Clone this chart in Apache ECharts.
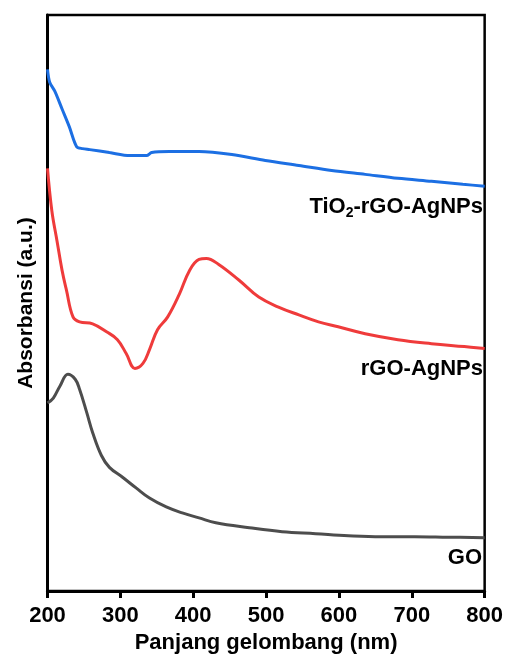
<!DOCTYPE html>
<html><head><meta charset="utf-8">
<script src="https://cdn.jsdelivr.net/npm/echarts@6/dist/echarts.min.js"></script>
<style>html,body{margin:0;padding:0;background:#fff}#c{width:506px;height:659px}</style>
</head><body><div id="c"></div>
<script>
// Wavelength (nm) / absorbance (a.u., arbitrary offset units)
const goX = [200,208,217,228,238,244,254,262,274,285,303,322,340,363,385,408,431,477,522,568,613,658,704,750,800];
const goY = [1.90,1.95,2.07,2.19,2.14,2.04,1.80,1.60,1.37,1.25,1.15,1.04,0.94,0.85,0.79,0.74,0.69,0.64,0.60,0.58,0.56,0.55,0.55,0.545,0.54];

const rgoX = [200,206,213,220,226,235,244,262,281,296,308,320,331,340,351,365,381,395,408,418,435,463,490,517,545,572,599,636,681,727,772,800];
const rgoY = [4.27,3.84,3.54,3.24,3.04,2.77,2.72,2.70,2.62,2.54,2.40,2.25,2.30,2.44,2.64,2.77,3.00,3.24,3.35,3.36,3.30,3.14,2.97,2.87,2.79,2.72,2.67,2.60,2.54,2.50,2.47,2.45];

const tiX = [200,203,210,220,230,240,248,258,285,313,336,343,367,408,453,499,545,590,636,681,727,770,800];
const tiY = [5.27,5.14,5.05,4.87,4.69,4.49,4.47,4.46,4.43,4.40,4.40,4.43,4.44,4.44,4.41,4.35,4.30,4.25,4.21,4.17,4.14,4.11,4.09];

const xTicks = [200,300,400,500,600,700,800];
const names = ['GO','rGO-AgNPs','TiO2-rGO-AgNPs'];

const zip = (a,b)=>a.map((v,i)=>[v,b[i]]);
const F = '"Liberation Sans", Arial, sans-serif';
const chart = echarts.init(document.getElementById('c'));
chart.setOption({
  animation:false,
  grid:{left:47.5,right:19,top:15,bottom:62,show:true,borderColor:'#000',borderWidth:2.5},
  xAxis:{type:'value',min:200,max:800,interval:100,
    name:'Panjang gelombang (nm)',nameLocation:'middle',nameGap:39,
    nameTextStyle:{fontFamily:F,fontWeight:'bold',fontSize:22,color:'#000'},
    axisLine:{lineStyle:{color:'#000',width:3}},
    axisTick:{show:true,inside:false,length:7,lineStyle:{color:'#000',width:3}},
    axisLabel:{fontFamily:F,fontWeight:'bold',fontSize:22,color:'#000',margin:14,
      formatter:v=>xTicks.includes(v)?String(v):''},
    splitLine:{show:false}},
  yAxis:{type:'value',min:0,max:5.82,
    name:'Absorbansi (a.u.)',nameLocation:'middle',nameGap:11,
    nameTextStyle:{fontFamily:F,fontWeight:'bold',fontSize:21,color:'#000'},
    axisLine:{show:true,lineStyle:{color:'#000',width:3}},
    axisTick:{show:false},axisLabel:{show:false},splitLine:{show:false}},
  series:[
    {name:names[0],type:'line',data:zip(goX,goY),smooth:0.4,showSymbol:false,
      lineStyle:{color:'#4d4d4d',width:3}},
    {name:names[1],type:'line',data:zip(rgoX,rgoY),smooth:0.4,showSymbol:false,
      lineStyle:{color:'#ef3b3b',width:3}},
    {name:names[2],type:'line',data:zip(tiX,tiY),smooth:0.3,showSymbol:false,
      lineStyle:{color:'#1c6fe3',width:3}}
  ],
  graphic:[
    {type:'text',right:23,top:196,style:{text:'{a|TiO}{b|2}{a|-rGO-AgNPs}',
      rich:{a:{fontFamily:F,fontWeight:'bold',fontSize:22,fill:'#000'},
            b:{fontFamily:F,fontWeight:'bold',fontSize:14,fill:'#000',padding:[12,0,0,0]}}}},
    {type:'text',right:23,top:358,style:{text:'rGO-AgNPs',fontFamily:F,fontWeight:'bold',fontSize:22,fill:'#000'}},
    {type:'text',right:24,top:547,style:{text:'GO',fontFamily:F,fontWeight:'bold',fontSize:22,fill:'#000'}}
  ]
});
</script></body></html>
